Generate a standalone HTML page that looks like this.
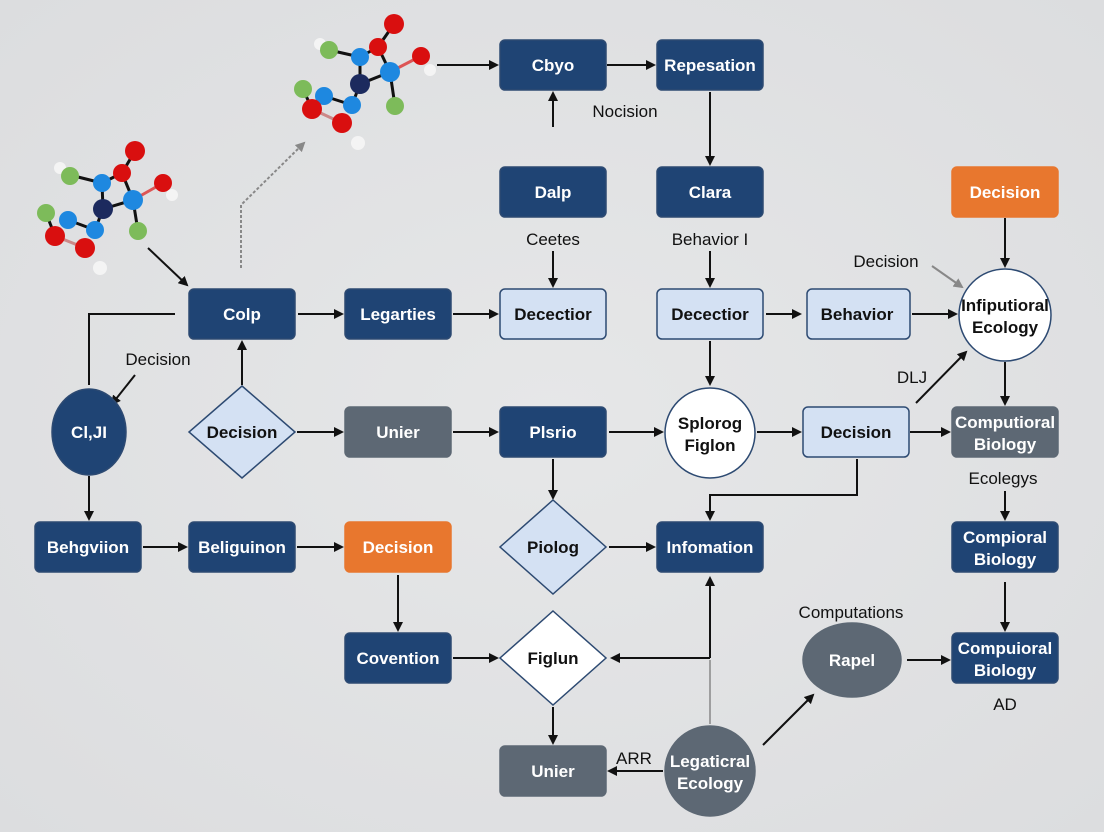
<!DOCTYPE html>
<html><head><meta charset="utf-8"><style>
html,body{margin:0;padding:0;background:#e2e3e4}
svg{display:block}
text{font-family:"Liberation Sans",sans-serif}
</style></head><body>
<svg width="1104" height="832" viewBox="0 0 1104 832" xmlns="http://www.w3.org/2000/svg">
<defs>
<marker id="a" markerWidth="10" markerHeight="10" refX="8" refY="5" orient="auto" markerUnits="userSpaceOnUse"><path d="M0,0 L10,5 L0,10 z" fill="#111"/></marker>
<marker id="g" markerWidth="10" markerHeight="10" refX="8" refY="5" orient="auto" markerUnits="userSpaceOnUse"><path d="M0,0 L10,5 L0,10 z" fill="#888"/></marker>
<radialGradient id="bg" cx="50%" cy="50%" r="70%"><stop offset="0" stop-color="#e6e7e8"/><stop offset="1" stop-color="#dcdddf"/></radialGradient>
</defs>
<rect width="1104" height="832" fill="url(#bg)"/>

<!-- molecules -->
<g stroke="#111" stroke-width="3">
<line x1="70" y1="175" x2="102" y2="183"/><line x1="102" y1="183" x2="122" y2="173"/><line x1="122" y1="173" x2="135" y2="151"/>
<line x1="122" y1="173" x2="133" y2="200"/><line x1="133" y1="200" x2="163" y2="183" stroke="#d55"/><line x1="102" y1="183" x2="103" y2="209"/>
<line x1="103" y1="209" x2="133" y2="200"/><line x1="133" y1="200" x2="138" y2="231"/><line x1="103" y1="209" x2="95" y2="230"/>
<line x1="68" y1="220" x2="95" y2="230"/><line x1="55" y1="236" x2="85" y2="248" stroke="#c88"/><line x1="46" y1="213" x2="55" y2="236"/>
<line x1="329" y1="50" x2="360" y2="57"/><line x1="360" y1="57" x2="378" y2="47"/><line x1="378" y1="47" x2="394" y2="24"/>
<line x1="378" y1="47" x2="390" y2="72"/><line x1="390" y1="72" x2="421" y2="56" stroke="#d55"/><line x1="360" y1="57" x2="360" y2="84"/>
<line x1="360" y1="84" x2="390" y2="72"/><line x1="390" y1="72" x2="395" y2="106"/><line x1="360" y1="84" x2="352" y2="105"/>
<line x1="324" y1="96" x2="352" y2="105"/><line x1="312" y1="109" x2="342" y2="123" stroke="#c88"/><line x1="303" y1="89" x2="312" y2="109"/>
</g>
<g>
<circle cx="60" cy="168" r="6" fill="#f4f4f4"/><circle cx="70" cy="176" r="9" fill="#7dbb5a"/><circle cx="102" cy="183" r="9" fill="#1e88e0"/>
<circle cx="122" cy="173" r="9" fill="#d90f0f"/><circle cx="135" cy="151" r="10" fill="#d90f0f"/><circle cx="163" cy="183" r="9" fill="#d90f0f"/>
<circle cx="172" cy="195" r="6" fill="#f4f4f4"/><circle cx="133" cy="200" r="10" fill="#1e88e0"/><circle cx="103" cy="209" r="10" fill="#1c2a5e"/>
<circle cx="46" cy="213" r="9" fill="#7dbb5a"/><circle cx="68" cy="220" r="9" fill="#1e88e0"/><circle cx="55" cy="236" r="10" fill="#d90f0f"/>
<circle cx="95" cy="230" r="9" fill="#1e88e0"/><circle cx="85" cy="248" r="10" fill="#d90f0f"/><circle cx="100" cy="268" r="7" fill="#f4f4f4"/>
<circle cx="138" cy="231" r="9" fill="#7dbb5a"/>
<circle cx="320" cy="44" r="6" fill="#f4f4f4"/><circle cx="329" cy="50" r="9" fill="#7dbb5a"/><circle cx="360" cy="57" r="9" fill="#1e88e0"/>
<circle cx="378" cy="47" r="9" fill="#d90f0f"/><circle cx="394" cy="24" r="10" fill="#d90f0f"/><circle cx="421" cy="56" r="9" fill="#d90f0f"/>
<circle cx="430" cy="70" r="6" fill="#f4f4f4"/><circle cx="390" cy="72" r="10" fill="#1e88e0"/><circle cx="360" cy="84" r="10" fill="#1c2a5e"/>
<circle cx="303" cy="89" r="9" fill="#7dbb5a"/><circle cx="324" cy="96" r="9" fill="#1e88e0"/><circle cx="312" cy="109" r="10" fill="#d90f0f"/>
<circle cx="352" cy="105" r="9" fill="#1e88e0"/><circle cx="342" cy="123" r="10" fill="#d90f0f"/><circle cx="358" cy="143" r="7" fill="#f4f4f4"/>
<circle cx="395" cy="106" r="9" fill="#7dbb5a"/>
</g>

<!-- connectors -->
<g stroke="#111" stroke-width="2" fill="none">
<line x1="148" y1="248" x2="187" y2="285" marker-end="url(#a)"/>
<line x1="437" y1="65" x2="497" y2="65" marker-end="url(#a)"/>
<line x1="607" y1="65" x2="654" y2="65" marker-end="url(#a)"/>
<line x1="553" y1="127" x2="553" y2="93" marker-end="url(#a)"/>
<line x1="710" y1="92" x2="710" y2="164" marker-end="url(#a)"/>
<line x1="553" y1="251" x2="553" y2="286" marker-end="url(#a)"/>
<line x1="710" y1="251" x2="710" y2="286" marker-end="url(#a)"/>
<line x1="1005" y1="218" x2="1005" y2="266" marker-end="url(#a)"/>
<line x1="298" y1="314" x2="342" y2="314" marker-end="url(#a)"/>
<line x1="453" y1="314" x2="497" y2="314" marker-end="url(#a)"/>
<line x1="766" y1="314" x2="800" y2="314" marker-end="url(#a)"/>
<line x1="912" y1="314" x2="956" y2="314" marker-end="url(#a)"/>
<polyline points="175,314 89,314 89,385"/>
<line x1="135" y1="375" x2="112" y2="404" marker-end="url(#a)"/>
<line x1="242" y1="385" x2="242" y2="342" marker-end="url(#a)"/>
<line x1="710" y1="341" x2="710" y2="384" marker-end="url(#a)"/>
<line x1="916" y1="403" x2="966" y2="352" marker-end="url(#a)"/>
<line x1="1005" y1="362" x2="1005" y2="404" marker-end="url(#a)"/>
<line x1="297" y1="432" x2="342" y2="432" marker-end="url(#a)"/>
<line x1="453" y1="432" x2="497" y2="432" marker-end="url(#a)"/>
<line x1="609" y1="432" x2="662" y2="432" marker-end="url(#a)"/>
<line x1="757" y1="432" x2="800" y2="432" marker-end="url(#a)"/>
<line x1="910" y1="432" x2="949" y2="432" marker-end="url(#a)"/>
<line x1="553" y1="459" x2="553" y2="498" marker-end="url(#a)"/>
<polyline points="857,459 857,495 710,495 710,519" marker-end="url(#a)"/>
<line x1="1005" y1="491" x2="1005" y2="519" marker-end="url(#a)"/>
<line x1="89" y1="476" x2="89" y2="519" marker-end="url(#a)"/>
<line x1="143" y1="547" x2="186" y2="547" marker-end="url(#a)"/>
<line x1="297" y1="547" x2="342" y2="547" marker-end="url(#a)"/>
<line x1="609" y1="547" x2="654" y2="547" marker-end="url(#a)"/>
<line x1="1005" y1="582" x2="1005" y2="630" marker-end="url(#a)"/>
<line x1="398" y1="575" x2="398" y2="630" marker-end="url(#a)"/>
<line x1="453" y1="658" x2="497" y2="658" marker-end="url(#a)"/>
<polyline points="710,658 612,658" marker-end="url(#a)"/>
<line x1="710" y1="658" x2="710" y2="578" marker-end="url(#a)"/>
<line x1="907" y1="660" x2="949" y2="660" marker-end="url(#a)"/>
<line x1="553" y1="707" x2="553" y2="743" marker-end="url(#a)"/>
<line x1="763" y1="745" x2="813" y2="695" marker-end="url(#a)"/>
<line x1="663" y1="771" x2="609" y2="771" marker-end="url(#a)"/>
</g>
<line x1="710" y1="660" x2="710" y2="724" stroke="#888" stroke-width="1.5"/>
<polyline points="241,268 241,205 304,143" fill="none" stroke="#888" stroke-width="2" stroke-dasharray="3,2" marker-end="url(#g)"/>
<line x1="932" y1="266" x2="962" y2="287" stroke="#888" stroke-width="2" marker-end="url(#g)"/>

<!-- nodes -->
<g stroke="#2d4a72" stroke-width="1.5">
<rect x="500" y="40" width="106" height="50" rx="5" fill="#1f4474"/>
<rect x="657" y="40" width="106" height="50" rx="5" fill="#1f4474"/>
<rect x="500" y="167" width="106" height="50" rx="5" fill="#1f4474"/>
<rect x="657" y="167" width="106" height="50" rx="5" fill="#1f4474"/>
<rect x="952" y="167" width="106" height="50" rx="5" fill="#e8772e" stroke="#e8772e"/>
<rect x="189" y="289" width="106" height="50" rx="5" fill="#1f4474"/>
<rect x="345" y="289" width="106" height="50" rx="5" fill="#1f4474"/>
<rect x="500" y="289" width="106" height="50" rx="5" fill="#d4e1f3"/>
<rect x="657" y="289" width="106" height="50" rx="5" fill="#d4e1f3"/>
<rect x="807" y="289" width="103" height="50" rx="5" fill="#d4e1f3"/>
<circle cx="1005" cy="315" r="46" fill="#fff"/>
<ellipse cx="89" cy="432" rx="37" ry="43" fill="#1f4474"/>
<polygon points="242,386 295,432 242,478 189,432" fill="#d4e1f3"/>
<rect x="345" y="407" width="106" height="50" rx="5" fill="#5d6874" stroke="#5d6874"/>
<rect x="500" y="407" width="106" height="50" rx="5" fill="#1f4474"/>
<circle cx="710" cy="433" r="45" fill="#fff"/>
<rect x="803" y="407" width="106" height="50" rx="5" fill="#d4e1f3"/>
<rect x="952" y="407" width="106" height="50" rx="5" fill="#5d6874" stroke="#5d6874"/>
<rect x="35" y="522" width="106" height="50" rx="5" fill="#1f4474"/>
<rect x="189" y="522" width="106" height="50" rx="5" fill="#1f4474"/>
<rect x="345" y="522" width="106" height="50" rx="5" fill="#e8772e" stroke="#e8772e"/>
<polygon points="553,500 606,547 553,594 500,547" fill="#d4e1f3"/>
<rect x="657" y="522" width="106" height="50" rx="5" fill="#1f4474"/>
<rect x="952" y="522" width="106" height="50" rx="5" fill="#1f4474"/>
<rect x="345" y="633" width="106" height="50" rx="5" fill="#1f4474"/>
<polygon points="553,611 606,658 553,705 500,658" fill="#fff"/>
<ellipse cx="852" cy="660" rx="49" ry="37" fill="#5d6874" stroke="#5d6874"/>
<rect x="952" y="633" width="106" height="50" rx="5" fill="#1f4474"/>
<rect x="500" y="746" width="106" height="50" rx="5" fill="#5d6874" stroke="#5d6874"/>
<circle cx="710" cy="771" r="45" fill="#5d6874" stroke="#5d6874"/>
</g>

<!-- node text -->
<g font-size="17" font-weight="bold" text-anchor="middle" fill="#fff">
<text x="553" y="71">Cbyo</text><text x="710" y="71">Repesation</text>
<text x="553" y="198">Dalp</text><text x="710" y="198">Clara</text><text x="1005" y="198">Decision</text>
<text x="242" y="320">Colp</text><text x="398" y="320">Legarties</text>
<text x="89" y="438">Cl,JI</text><text x="398" y="438">Unier</text><text x="553" y="438">Plsrio</text>
<text x="1005" y="428">Computioral</text><text x="1005" y="450">Biology</text>
<text x="88" y="553">Behgviion</text><text x="242" y="553">Beliguinon</text><text x="398" y="553">Decision</text>
<text x="710" y="553">Infomation</text>
<text x="1005" y="543">Compioral</text><text x="1005" y="565">Biology</text>
<text x="398" y="664">Covention</text><text x="852" y="666">Rapel</text>
<text x="1005" y="654">Compuioral</text><text x="1005" y="676">Biology</text>
<text x="553" y="777">Unier</text>
<text x="710" y="767">Legaticral</text><text x="710" y="789">Ecology</text>
</g>
<g font-size="17" font-weight="bold" text-anchor="middle" fill="#111">
<text x="553" y="320">Decectior</text><text x="710" y="320">Decectior</text><text x="857" y="320">Behavior</text>
<text x="1005" y="311">Infiputioral</text><text x="1005" y="333">Ecology</text>
<text x="242" y="438">Decision</text><text x="856" y="438">Decision</text>
<text x="710" y="429">Splorog</text><text x="710" y="451">Figlon</text>
<text x="553" y="553">Piolog</text><text x="553" y="664">Figlun</text>
</g>
<g font-size="17" text-anchor="middle" fill="#111">
<text x="625" y="117">Nocision</text><text x="553" y="245">Ceetes</text><text x="710" y="245">Behavior I</text>
<text x="886" y="267">Decision</text><text x="158" y="365">Decision</text><text x="912" y="383">DLJ</text>
<text x="1003" y="484">Ecolegys</text><text x="851" y="618">Computations</text><text x="1005" y="710">AD</text>
<text x="634" y="764">ARR</text>
</g>
</svg>
</body></html>
